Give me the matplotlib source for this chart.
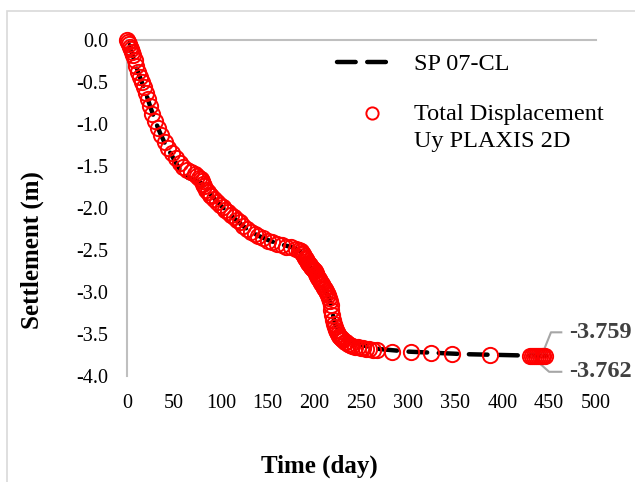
import matplotlib
matplotlib.use("Agg")
import matplotlib.pyplot as plt
from matplotlib.patches import Rectangle
from matplotlib.legend_handler import HandlerLine2D

plt.rcParams['font.family'] = ['Liberation Serif', 'DejaVu Serif']

# SP 07-CL (measured / reference curve)
sp_time = [0, 5, 10, 15, 20, 25, 30, 35, 40, 45, 50, 55, 60, 65, 70, 75, 80, 85, 90,
           100, 110, 120, 130, 140, 150, 160, 170, 180, 185, 190, 195, 200, 205, 210,
           215, 218, 220, 222, 225, 230, 235, 240, 250, 260, 270, 280, 300, 320, 340,
           360, 380, 400, 420, 440, 447]
sp_settle = [0, -0.15, -0.32, -0.48, -0.63, -0.80, -0.96, -1.10, -1.22, -1.32, -1.42,
             -1.52, -1.60, -1.64, -1.66, -1.68, -1.71, -1.79, -1.85, -1.97, -2.08, -2.18,
             -2.27, -2.33, -2.38, -2.42, -2.45, -2.48, -2.52, -2.60, -2.70, -2.76, -2.86,
             -2.95, -3.06, -3.18, -3.30, -3.38, -3.44, -3.49, -3.54, -3.58, -3.63, -3.66,
             -3.68, -3.69, -3.71, -3.72, -3.73, -3.74, -3.745, -3.75, -3.755, -3.758, -3.759]

# Total displacement Uy PLAXIS 2D
px_time = [0, 1, 2, 3, 4, 5, 6, 8, 10, 12, 14, 16, 18, 20, 22, 24, 27, 30, 33, 36, 40, 44,
           48, 52, 56, 60, 64, 68, 72, 75, 77, 79, 80, 81, 82, 84, 86, 88, 90, 93, 96, 99,
           102, 105, 108, 111, 114, 117, 120, 124, 128, 132, 136, 140, 145, 150, 155, 160,
           165, 170, 175, 180, 183, 185, 187, 188, 189, 190, 191, 192, 193, 194, 195, 196,
           197, 198, 199, 200, 201, 202, 203, 204, 205, 206, 207, 208, 209, 210, 211, 212,
           213, 214, 215, 216, 217, 218, 219, 220, 221, 222, 223, 224, 225, 226, 227, 228,
           229, 230, 232, 234, 236, 238, 240, 243, 246, 249, 252, 255, 258, 262, 266, 283,
           303, 324, 346, 387, 430, 432, 434, 436, 438, 440, 442, 444, 446]
px_settle = [0, -0.02, -0.05, -0.08, -0.11, -0.14, -0.18, -0.24, -0.31, -0.38, -0.44, -0.50,
             -0.56, -0.63, -0.70, -0.78, -0.88, -0.97, -1.05, -1.13, -1.22, -1.29, -1.35,
             -1.41, -1.47, -1.51, -1.55, -1.57, -1.60, -1.62, -1.64, -1.66, -1.68, -1.71,
             -1.74, -1.78, -1.81, -1.84, -1.86, -1.89, -1.93, -1.96, -1.99, -2.02, -2.05,
             -2.08, -2.11, -2.14, -2.17, -2.21, -2.25, -2.28, -2.31, -2.33, -2.36, -2.39,
             -2.41, -2.43, -2.44, -2.46, -2.47, -2.49, -2.50, -2.51, -2.53, -2.55, -2.57,
             -2.59, -2.61, -2.63, -2.65, -2.67, -2.68, -2.70, -2.71, -2.73, -2.74, -2.75,
             -2.77, -2.79, -2.81, -2.83, -2.85, -2.87, -2.89, -2.91, -2.93, -2.95, -2.97,
             -2.99, -3.01, -3.04, -3.07, -3.11, -3.16, -3.21, -3.27, -3.33, -3.38, -3.42,
             -3.45, -3.48, -3.50, -3.52, -3.54, -3.55, -3.56, -3.57, -3.59, -3.60, -3.62,
             -3.63, -3.64, -3.65, -3.66, -3.67, -3.67, -3.68, -3.68, -3.69, -3.69, -3.71,
             -3.72, -3.73, -3.74, -3.75, -3.757, -3.758, -3.759, -3.760, -3.760, -3.761,
             -3.761, -3.762, -3.762]

x_ticks = [0, 50, 100, 150, 200, 250, 300, 350, 400, 450, 500]
y_ticks = [0.0, -0.5, -1.0, -1.5, -2.0, -2.5, -3.0, -3.5, -4.0]
final_labels = ["-3.759", "-3.762"]


class RaisedHandler(HandlerLine2D):
    """Legend handle aligned with the first line of a two-line label."""
    def create_artists(self, legend, orig_handle, xdescent, ydescent, width, height,
                       fontsize, trans):
        arts = super().create_artists(legend, orig_handle, xdescent, ydescent, width,
                                      height, fontsize, trans)
        for a in arts:
            a.set_ydata([y + 10.0 for y in a.get_ydata()])
            a.set_xdata([x + 5.0 for x in a.get_xdata()])
        return arts


fig = plt.figure(figsize=(6.35, 4.82), dpi=100)
ax = fig.add_axes([127/635, 1 - 376/482, (596-127)/635, (376-40)/482])

# outer chart border
fig.patches.append(Rectangle((7/635, -0.05), 1.1, 1.05 - 11/482,
                             transform=fig.transFigure, fill=False,
                             edgecolor='#d9d9d9', linewidth=1.2))

ax.plot(sp_time, sp_settle, color='black', linewidth=3.2, linestyle=(0, (4.2, 2.6)),
        dash_capstyle='round', label='SP 07-CL', zorder=2)
px_line, = ax.plot(px_time, px_settle, linestyle='none', marker='o', markersize=11,
                   markerfacecolor='none', markeredgecolor='red', markeredgewidth=1.4,
                   label='Total Displacement\nUy PLAXIS 2D', zorder=3, clip_on=False)

ax.set_xlim(0, 500)
ax.set_ylim(-4.0, 0.0)
ax.set_xticks(x_ticks)
ax.set_yticks(y_ticks)
ax.set_yticklabels([f"{v:.1f}" for v in y_ticks])
ax.tick_params(axis='both', length=0, labelsize=14.5, colors='black')
ax.tick_params(axis='y', pad=13.5)
ax.tick_params(axis='x', pad=13)

for s in ['right', 'bottom']:
    ax.spines[s].set_visible(False)
for s in ['left', 'top']:
    ax.spines[s].set_color('#bfbfbf')
    ax.spines[s].set_linewidth(1.5)

ax.set_xlabel('Time (day)', fontsize=18, fontweight='bold')
ax.set_ylabel('Settlement (m)', fontsize=18, fontweight='bold')
ax.xaxis.set_label_coords(0.41, -0.235)
ax.yaxis.set_label_coords(-0.178, 0.375)

leg = ax.legend(loc='upper left', bbox_to_anchor=(0.448, 0.961), frameon=False,
                fontsize=17.5, handlelength=2.3, handletextpad=0.87, borderpad=0,
                borderaxespad=0, labelspacing=1.17, markerscale=0.8,
                handler_map={px_line: RaisedHandler()})
for t in leg.get_texts():
    t.set_linespacing(1.4)

# leader lines and value labels
ax.plot([442, 452, 463], [sp_settle[-1], -3.48, -3.48], color='#a6a6a6', lw=1.5, clip_on=False)
ax.plot([431, 450, 463], [px_settle[-1], -3.95, -3.95], color='#a6a6a6', lw=1.5, clip_on=False)
ax.text(471, -3.48, final_labels[0], fontsize=17.5, fontweight='bold', color='#404040',
        va='center', ha='left', clip_on=False)
ax.text(471, -3.95, final_labels[1], fontsize=17.5, fontweight='bold', color='#404040',
        va='center', ha='left', clip_on=False)

fig.savefig('out.png', dpi=100)
